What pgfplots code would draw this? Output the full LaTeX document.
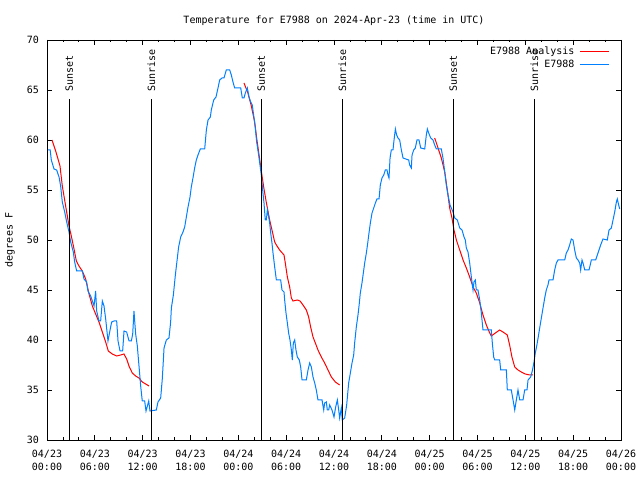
\documentclass[border=0pt]{standalone}
\usepackage{fontspec}
\setmainfont{DejaVu Sans Mono}
\usepackage{pgfplots}
\pgfplotsset{compat=1.18}
\definecolor{obsblue}{RGB}{0,128,255}
\definecolor{anared}{RGB}{255,0,0}
\begin{document}
\fontsize{10bp}{12.5bp}\selectfont
\begin{tikzpicture}
\useasboundingbox (-47bp,-40bp) rectangle (593bp,440bp);
\begin{axis}[
  scale only axis, width=574bp, height=400bp,
  xmin=0, xmax=72, ymin=30, ymax=70,
  axis line style={line width=0.8bp},
  every tick/.style={black, line width=0.8bp},
  tick align=inside,
  major tick length=5bp, minor tick length=2.5bp,
  xtick={0,6,...,72}, minor x tick num=2,
  ytick={30,35,...,70},
  xticklabels={{04/23\\00:00},{04/23\\06:00},{04/23\\12:00},{04/23\\18:00},{04/24\\00:00},{04/24\\06:00},{04/24\\12:00},{04/24\\18:00},{04/25\\00:00},{04/25\\06:00},{04/25\\12:00},{04/25\\18:00},{04/26\\00:00}},
  xticklabel style={align=center, font=\fontsize{10bp}{12.5bp}\selectfont, inner sep=0pt, anchor=north, yshift=-10bp},
  yticklabel style={font=\fontsize{10bp}{12.5bp}\selectfont, inner sep=0pt, anchor=east, xshift=-8bp},
  /pgf/number format/assume math mode=true,
  every axis title shift=0pt,
  title={Temperature for E7988 on 2024-Apr-23 (time in UTC)},
  title style={font=\fontsize{10bp}{12.5bp}\selectfont, at={(axis description cs:0.5,1.04875)}, anchor=center, inner sep=0pt},
  ylabel={degrees F},
  ylabel style={font=\fontsize{10bp}{12.5bp}\selectfont, at={(axis description cs:-0.0645,0.5)}, anchor=center, inner sep=0pt},
  legend plot pos=right,
  legend cell align=right,
  legend image code/.code={\draw[#1] (0bp,0bp) -- (29bp,0bp);},
  legend style={draw=none, fill=none, at={(axis description cs:0.981,0.99)}, anchor=north east,
    font=\fontsize{10bp}{12bp}\selectfont, row sep=-1bp, column sep=3bp, inner sep=0pt,
    nodes={inner sep=2.5bp}},
]
% Analysis (red), three runs
\addplot[anared, line width=1bp] coordinates {
(0.63,60) (1.09,58.9) (1.63,57.4) (1.92,55.4) (2.34,53.4) (2.76,51.4) (3.05,50.4) (3.39,49.1) (3.68,47.9) (4.01,47.4) (4.43,46.9) (4.85,46.1) (5.27,44.6) (5.69,43.4) (6.10,42.6) (6.52,41.8) (6.94,40.8) (7.36,39.8) (7.69,38.9) (8.19,38.6) (8.74,38.4) (9.24,38.5) (9.66,38.6) (9.99,38.1) (10.33,37.3) (10.70,36.7) (11.12,36.4) (11.54,36.2) (11.95,35.8) (12.38,35.6) (12.80,35.4)
};
\addlegendentry{E7988 Analysis}
\addplot[anared, line width=1bp, forget plot] coordinates {
(24.71,65.7) (25.2,64.7) (25.6,63.5) (26.05,61.8) (26.3,60.2) (26.6,58.5) (26.9,56.8) (27.2,55.2) (27.5,53.8) (27.93,52) (28.22,51) (28.56,49.8) (28.77,49.5) (29.18,49) (29.73,48.5) (29.89,47.7) (30.15,46.3) (30.44,45.3) (30.65,44.2) (30.86,43.9) (31.40,44) (31.74,43.9) (32.11,43.5) (32.53,43) (32.82,42.3) (33.07,41.3) (33.37,40.3) (33.66,39.7) (33.99,39) (34.41,38.3) (34.83,37.7) (35.25,37) (35.67,36.3) (36.17,35.8) (36.71,35.5)
};
\addplot[anared, line width=1bp, forget plot] coordinates {
(48.63,60.2) (49.05,59.2) (49.46,58.2) (49.89,56.8) (50.30,54.5) (50.51,53.2) (50.8,52.2) (51.05,51) (51.35,50) (51.77,49) (52.19,48) (52.60,47.2) (53.02,46.3) (53.44,45.3) (53.85,44.7) (54.28,43.7) (54.69,42.5) (55.11,41.5) (55.53,40.7) (55.73,40.4) (56.24,40.7) (56.78,41) (57.20,40.8) (57.74,40.5) (58.03,39.5) (58.32,38.3) (58.67,37.3) (59.08,37) (59.50,36.8) (60.00,36.6) (60.55,36.5) (60.96,36.5)
};
% Observations (blue)
\addplot[obsblue, line width=1bp] coordinates {
(0.13,59) (0.40,59) (0.54,58) (0.88,57.1) (1.21,57) (1.51,56.3) (1.71,55.4) (1.92,53.8) (2.22,52.8) (2.47,51.8) (2.76,50.8) (2.97,49.8) (3.30,48.8) (3.47,47.8) (3.72,46.9) (4.43,46.9) (4.64,46.1) (4.97,45.8) (5.14,44.9) (5.48,44.4) (5.69,43.9) (5.90,43.4) (6.10,44.9) (6.23,42.9) (6.52,41.9) (6.73,41.9) (6.94,43.9) (7.15,43.4) (7.36,42.1) (7.65,39.9) (7.86,40.8) (8.11,41.8) (8.40,41.9) (8.74,41.9) (8.91,39.9) (9.16,38.9) (9.49,38.9) (9.66,40.9) (9.99,40.8) (10.29,39.9) (10.58,39.9) (10.75,40.6) (10.91,42.9) (11.12,40.6) (11.33,39.4) (11.54,37.4) (11.75,35.4) (11.95,33.9) (12.25,33.9) (12.42,32.9) (12.59,33.4) (12.76,33.9) (12.92,32.9)
(13.71,33.0) (13.92,33.8) (14.26,34.2) (14.47,36.2) (14.68,39.2) (14.97,40) (15.30,40.2) (15.51,41.8) (15.60,43.2) (15.85,44.5) (16.10,46.5) (16.35,48.2) (16.51,49.3) (16.77,50.3) (17.06,50.8) (17.27,51.3) (17.48,52.3) (17.69,53.3) (17.94,54.3) (18.10,55.3) (18.31,56.2) (18.52,57.2) (18.73,58) (18.94,58.5) (19.23,59.1) (19.78,59.1) (19.99,61) (20.20,62) (20.49,62.3) (20.61,63) (20.91,64) (21.20,64.3) (21.45,65.2) (21.66,66) (21.95,66.2) (22.20,66.2) (22.49,67) (22.92,67) (23.12,66.5) (23.33,65.8) (23.54,65.2) (24.30,65.2) (24.50,64.2) (24.71,64.2) (24.88,64.7) (25.13,65.2) (25.34,64.3) (25.55,63.8) (25.75,63.5) (25.97,62.2) (26.13,61.2) (26.30,59.8) (26.51,58.7) (26.72,57.5) (26.88,56.5)
(26.97,55.7) (27.09,54.7) (27.22,53.7) (27.38,52) (27.51,52) (27.64,53) (27.81,52.3) (27.93,51.7) (28.06,50.7) (28.22,49.7) (28.35,48.7) (28.56,47.3) (28.77,46) (29.31,46) (29.48,45) (29.73,44.8) (29.81,44) (29.98,42.7) (30.15,41.7) (30.31,40.7) (30.48,40) (30.65,39) (30.77,38) (30.90,39.7) (31.07,40) (31.23,39) (31.40,38.3) (31.65,38) (31.82,37.3) (31.99,36) (32.53,36) (32.74,37) (32.95,37.7) (33.16,37.3) (33.37,36.3) (33.58,35.7) (33.78,35) (33.99,34) (34.50,34) (34.71,33) (34.83,33.7) (35.04,33.8) (35.16,33) (35.33,33) (35.46,33.5) (35.75,33) (36.00,32.3) (36.21,33.3) (36.42,34) (36.59,33) (36.71,32.2) (36.92,33.2) (37.04,32) (37.34,32.2) (37.59,33.5) (37.84,35.7)
(38.05,36.7) (38.26,37.7) (38.47,38.5) (38.59,39.7) (38.80,41.3) (39.01,42.5) (39.18,43.7) (39.30,44.7) (39.51,45.7) (39.68,46.7) (39.85,47.7) (40.06,48.7) (40.23,49.7) (40.39,50.7) (40.56,51.7) (40.77,52.7) (40.98,53.2) (41.19,53.7) (41.39,54.1) (41.65,54.1) (41.81,55.5) (42.02,56.2) (42.24,56.5) (42.44,57) (42.65,57) (42.77,56.5) (42.90,56.2) (43.03,58.2) (43.19,59) (43.40,59) (43.53,60) (43.70,61.1) (43.86,60.5) (44.03,60.2) (44.24,60) (44.45,59) (44.66,58.2) (45.37,58) (45.49,57.5) (45.70,57.2) (45.79,58.5) (46.00,59) (46.20,59.2) (46.41,60) (46.66,60) (46.88,59.2) (47.38,59.1) (47.58,60.5) (47.71,61.1) (47.88,60.7) (48.13,60.2) (48.42,60) (48.63,59.5) (48.84,59.1) (49.46,59.1) (49.67,58.2) (49.89,56.8) (50.09,55.5) (50.30,54.5) (50.55,53.5)
(50.93,52.8) (51.14,52.2) (51.47,52) (51.77,51.2) (52.06,51) (52.31,50.3) (52.47,50) (52.60,49.2) (52.81,48.8) (53.02,47.7) (53.23,46.3) (53.44,45) (53.56,45.8) (53.73,46) (53.85,45) (54.06,45) (54.28,44) (54.48,42.7) (54.69,41) (55.73,41) (55.86,39.7) (56.03,38.3) (56.16,38) (56.78,38) (56.91,37) (57.62,37) (57.74,35) (58.24,35) (58.46,34) (58.67,33) (58.87,34) (59.08,35) (59.30,34) (59.71,34) (59.92,35) (60.21,35) (60.34,36) (60.67,36.3) (60.90,37) (61.09,37.8) (61.25,38.7) (61.45,39.5) (61.6,40.2) (61.80,41.2) (62.01,42.2) (62.22,43.2) (62.43,44.2) (62.63,45) (62.84,45.5) (62.97,46) (63.47,46) (63.68,47) (63.89,47.7) (64.10,48) (64.94,48) (65.14,48.7) (65.35,49) (65.56,49.5) (65.77,50.1) (65.98,50) (66.19,49) (66.40,48.2) (66.61,48) (66.82,47.7) (66.94,47) (67.11,48) (67.24,47.7) (67.45,47) (67.99,47) (68.28,48) (68.82,48) (69.03,48.5) (69.24,49) (69.45,49.5) (69.74,50.1) (70.28,50) (70.50,51) (70.79,51.2) (71.00,52) (71.21,52.8) (71.42,53.8) (71.54,54.1) (71.71,53.5) (71.84,53.1)
};
\addlegendentry{E7988}
% Sunset / sunrise markers
\addplot[black, line width=0.8bp, forget plot] coordinates {(2.80,30) (2.80,64.1)};
\addplot[black, line width=0.8bp, forget plot] coordinates {(13.08,30) (13.08,64.1)};
\addplot[black, line width=0.8bp, forget plot] coordinates {(26.88,30) (26.88,64.1)};
\addplot[black, line width=0.8bp, forget plot] coordinates {(37.04,30) (37.04,64.1)};
\addplot[black, line width=0.8bp, forget plot] coordinates {(50.97,30) (50.97,64.1)};
\addplot[black, line width=0.8bp, forget plot] coordinates {(61.13,30) (61.13,64.1)};
\node[rotate=90, anchor=west, inner sep=0pt, font=\fontsize{10bp}{12bp}\selectfont] at (axis cs:2.80,64.8) {Sunset};
\node[rotate=90, anchor=west, inner sep=0pt, font=\fontsize{10bp}{12bp}\selectfont] at (axis cs:13.08,64.8) {Sunrise};
\node[rotate=90, anchor=west, inner sep=0pt, font=\fontsize{10bp}{12bp}\selectfont] at (axis cs:26.88,64.8) {Sunset};
\node[rotate=90, anchor=west, inner sep=0pt, font=\fontsize{10bp}{12bp}\selectfont] at (axis cs:37.04,64.8) {Sunrise};
\node[rotate=90, anchor=west, inner sep=0pt, font=\fontsize{10bp}{12bp}\selectfont] at (axis cs:50.97,64.8) {Sunset};
\node[rotate=90, anchor=west, inner sep=0pt, font=\fontsize{10bp}{12bp}\selectfont] at (axis cs:61.13,64.8) {Sunrise};
\end{axis}
\end{tikzpicture}
\end{document}
